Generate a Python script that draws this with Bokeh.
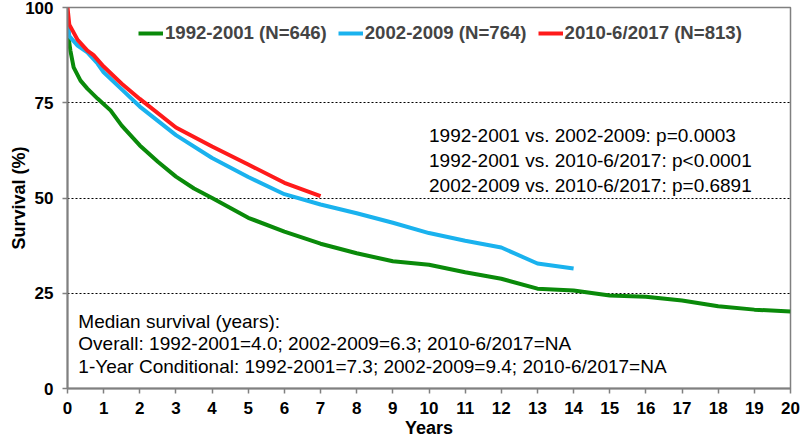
from bokeh.plotting import figure
from bokeh.models import Range1d, FixedTicker, Legend, LegendItem, Label
from bokeh.embed import file_html
from bokeh.resources import INLINE

# Data
t_9201 = [0, 0.03, 0.08, 0.17, 0.36, 0.55, 0.83, 1.19, 1.5, 2, 2.5, 3, 3.5, 4, 5, 6, 7, 8, 9, 10, 11, 12, 13, 14, 15, 16, 17, 18, 19, 20]
s_9201 = [94, 92, 88.7, 84.3, 80.8, 78.7, 76.1, 73, 69, 63.8, 59.5, 55.6, 52.5, 50, 44.8, 41.2, 38, 35.5, 33.4, 32.5, 30.5, 28.8, 26.2, 25.7, 24.4, 24.1, 23.1, 21.6, 20.7, 20.2]

t_0209 = [0, 0.05, 0.28, 0.55, 0.83, 1, 1.5, 2, 3, 4, 5, 6, 7, 8, 9, 10, 11, 12, 13, 14]
s_0209 = [97, 92.5, 90, 88.2, 85.3, 83, 78.5, 74, 66.5, 60.5, 55.5, 51, 48.3, 46, 43.5, 40.8, 38.8, 37, 32.8, 31.5]

t_1017 = [0, 0.05, 0.28, 0.55, 0.72, 1, 1.5, 2, 3, 4, 5, 6, 7]
s_1017 = [100, 95.5, 91.5, 88.7, 87.5, 84.5, 80, 76, 68.5, 63.5, 58.8, 54, 50.5]

series_labels = ["1992-2001 (N=646)", "2002-2009 (N=764)", "2010-6/2017 (N=813)"]
series_colors = ["#0a8a0a", "#1ab2ee", "#ff1a1a"]

x_ticks = list(range(0, 21))
y_ticks = [0, 25, 50, 75, 100]
grid_ticks = [25, 50, 75]

pvalue_lines = [
    "1992-2001 vs. 2002-2009: p=0.0003",
    "1992-2001 vs. 2010-6/2017: p<0.0001",
    "2002-2009 vs. 2010-6/2017: p=0.6891",
]
median_lines = [
    "Median survival (years):",
    "Overall: 1992-2001=4.0; 2002-2009=6.3; 2010-6/2017=NA",
    "1-Year Conditional: 1992-2001=7.3; 2002-2009=9.4; 2010-6/2017=NA",
]
x_title = "Years"
y_title = "Survival (%)"

FONT = "Liberation Sans"

p = figure(width=800, height=442, output_backend="svg", toolbar_location=None,
           x_range=Range1d(0, 20), y_range=Range1d(0, 100),
           min_border_left=67, min_border_right=10, min_border_top=7, min_border_bottom=54)

p.outline_line_color = "#808080"
p.outline_line_width = 1.5

renderers = []
for t, s, c in zip([t_9201, t_0209, t_1017], [s_9201, s_0209, s_1017], series_colors):
    r = p.line(t, s, line_color=c, line_width=4)
    renderers.append(r)

# axes
for ax in (p.xaxis[0], p.yaxis[0]):
    ax.axis_line_color = "#808080"
    ax.axis_line_width = 2
    ax.major_tick_line_color = "#808080"
    ax.major_tick_line_width = 1.5
    ax.major_tick_in = 0
    ax.major_tick_out = 5
    ax.minor_tick_line_color = None
    ax.major_label_text_font = FONT
    ax.major_label_text_font_style = "bold"
    ax.major_label_text_font_size = "17px"
    ax.major_label_text_color = "black"
    ax.axis_label_text_font = FONT
    ax.axis_label_text_font_style = "bold"
    ax.axis_label_text_font_size = "18px"
    ax.axis_label_text_color = "black"

p.xaxis.ticker = FixedTicker(ticks=x_ticks)
p.yaxis.ticker = FixedTicker(ticks=y_ticks)
p.xaxis.axis_label = x_title
p.yaxis.axis_label = y_title
p.xaxis.major_label_standoff = 8
p.yaxis.major_label_standoff = 9
p.xaxis.axis_label_standoff = 1
p.yaxis.axis_label_standoff = -7

p.xgrid.grid_line_color = None
p.ygrid.ticker = FixedTicker(ticks=grid_ticks)
p.ygrid.grid_line_color = "black"
p.ygrid.grid_line_width = 1
p.ygrid.grid_line_dash = "2 2"

legend = Legend(
    items=[LegendItem(label=lab, renderers=[r]) for lab, r in zip(series_labels, renderers)],
    orientation="horizontal", location=(71, 344),
    border_line_alpha=0, background_fill_alpha=0,
    label_text_font=FONT, label_text_font_style="bold", label_text_font_size="18.6px",
    glyph_width=25, glyph_height=20, label_standoff=2, spacing=11, padding=0, margin=0,
)
p.add_layout(legend)

for i, txt in enumerate(pvalue_lines):
    p.add_layout(Label(x=10, y=66.4 - 6.55 * i, text=txt, text_font=FONT, text_font_size="19px",
                       text_baseline="middle", text_color="black"))
for i, txt in enumerate(median_lines):
    p.add_layout(Label(x=0.3, y=17.6 - 5.9 * i, text=txt, text_font=FONT, text_font_size="19px",
                       text_baseline="middle", text_color="black"))

open("out.html", "w").write(file_html(p, INLINE))
